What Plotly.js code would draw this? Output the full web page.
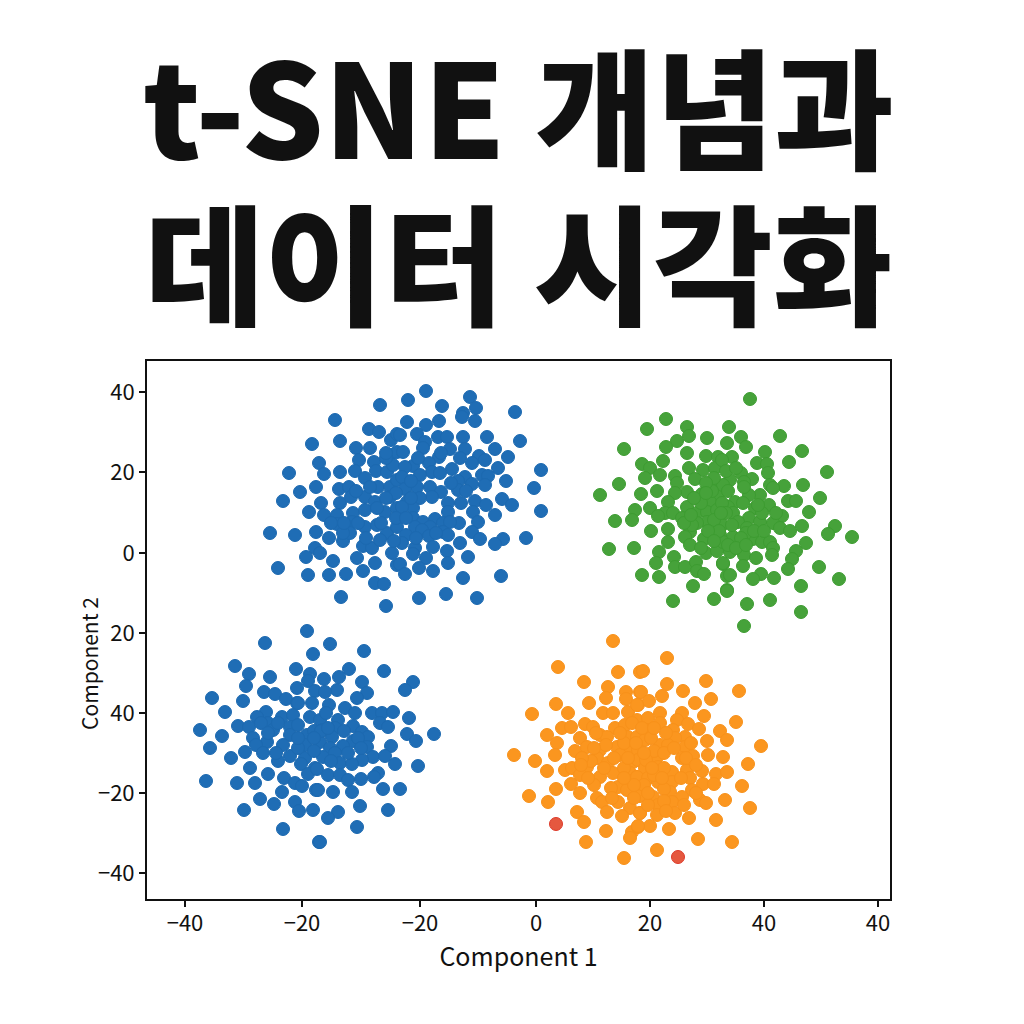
<!DOCTYPE html>
<html><head><meta charset="utf-8">
<script src="https://cdn.plot.ly/plotly-3.0.1.min.js"></script>
<style>html,body{margin:0;padding:0;background:#fff}</style></head>
<body><div id="chart" style="width:1024px;height:1024px"></div>
<script>
const titleLine1 = "t-SNE 개념과";
const titleLine2 = "데이터 시각화";
const xTickVals = [-351,-234,-116,0,114,228,342];
const xTickText = ["−40","−20","−20","0","20","40","40"];
const yTickVals = [161,81,0,-80,-160,-240,-320];
const yTickText = ["40","20","0","20","40","−20","−40"];
const blueUpper = [[-156,148],[-201,133],[-167,124],[-157,121],[-224,109],[-196,112],[-145,113],[-180,105],[-166,105],[-139,119],[-217,90],[-177,93],[-162,91],[-146,98],[-247,80],[-212,79],[-196,81],[-181,82],[-171,75],[-160,82],[-149,81],[-220,66],[-236,61],[-197,64],[-187,66],[-158,66],[-146,66],[-253,52],[-215,50],[-196,50],[-185,56],[-171,56],[-161,51],[-227,41],[-212,38],[-199,38],[-183,40],[-171,43],[-151,41],[-139,45],[-266,20],[-241,18],[-220,21],[-207,15],[-199,29],[-184,31],[-171,26],[-159,28],[-149,20],[-139,26],[-193,12],[-221,5],[-216,0],[-230,-4],[-173,7],[-164,5],[-156,13],[-144,0],[-179,-5],[-203,-8],[-161,-10],[-258,-15],[-228,-22],[-207,-22],[-190,-21],[-173,-18],[-139,-12],[-161,-30],[-152,-31],[-195,-44],[-150,-53],[-186,20],[-146,56],[-139,73],[-143,88],[-139,101],[-166,66],[-193,20],[-159,45],
[-110,162],[-128,153],[-66,156],[-94,147],[-60,145],[-73,140],[-74,136],[-21,141],[-61,132],[-129,131],[-110,128],[-97,132],[-119,119],[-136,118],[-98,116],[-89,116],[-73,116],[-49,116],[-16,112],[-111,111],[-113,105],[-86,104],[-41,104],[-71,104],[-133,101],[-28,96],[-97,96],[-76,95],[-57,97],[-51,93],[-64,90],[-107,90],[-38,85],[5,83],[-123,87],[-131,86],[-84,84],[-104,81],[-96,80],[-116,78],[-134,76],[-54,78],[-48,77],[-71,76],[-30,72],[-78,72],[-64,69],[-51,68],[-2,65],[-106,66],[-119,66],[-131,64],[-78,63],[-95,61],[-104,56],[-116,55],[-34,54],[-129,51],[-75,50],[-88,50],[-61,52],[-50,48],[-24,48],[-123,45],[-134,46],[-63,41],[-88,41],[5,42],[-41,38],[-123,35],[-113,31],[-101,34],[-58,31],[-93,30],[-77,30],[-86,31],[-121,26],[-106,26],[-114,23],[-93,21],[-88,18],[-64,21],[-107,17],[-130,18],[-56,14],[-33,14],[-10,15],[-134,10],[-41,9],[-76,10],[-103,6],[-121,5],[-89,2],[-123,-1],[-110,-5],[-68,-4],[-88,-10],[-136,-11],[-117,-15],[-103,-18],[-131,-21],[-73,-25],[-35,-23],[-90,-41],[-117,-45],[-59,-45],
[-150,95],[-140,60],[-125,72],[-118,95],[-125,55],[-140,35],[-150,55],[-130,35],[-142,12],[-120,15],[-100,20],[-170,15],[-180,62],[-70,62],[-85,70],[-95,100],[-155,30],[-178,30],[-192,30],[-205,30],[-150,100]];
const blueLower = [[-229,-78],[-271,-90],[-223,-101],[-301,-113],[-287,-121],[-266,-124],[-240,-116],[-226,-121],[-228,-128],[-290,-133],[-239,-135],[-272,-139],[-261,-141],[-221,-138],[-250,-146],[-324,-145],[-293,-148],[-239,-150],[-224,-150],[-311,-159],[-270,-159],[-279,-164],[-254,-164],[-243,-162],[-226,-164],[-298,-173],[-287,-174],[-268,-170],[-246,-174],[-263,-177],[-336,-177],[-314,-183],[-283,-185],[-246,-182],[-229,-182],[-269,-189],[-253,-192],[-231,-192],[-326,-195],[-280,-192],[-291,-199],[-273,-200],[-246,-203],[-305,-205],[-258,-208],[-231,-205],[-235,-211],[-286,-215],[-221,-215],[-268,-221],[-228,-221],[-252,-225],[-330,-228],[-299,-230],[-281,-230],[-241,-230],[-234,-233],[-220,-237],[-254,-239],[-276,-246],[-262,-251],[-241,-249],[-237,-258],[-292,-257],[-223,-257],[-253,-276],[-217,-289],
[-206,-91],[-172,-98],[-187,-116],[-152,-118],[-212,-126],[-197,-124],[-123,-129],[-174,-129],[-131,-137],[-169,-140],[-199,-137],[-211,-139],[-179,-145],[-207,-152],[-191,-155],[-181,-160],[-164,-160],[-154,-160],[-143,-159],[-127,-165],[-216,-167],[-198,-167],[-156,-170],[-148,-174],[-183,-173],[-201,-175],[-213,-177],[-174,-179],[-102,-181],[-129,-181],[-120,-188],[-168,-184],[-183,-188],[-204,-184],[-216,-189],[-193,-193],[-206,-195],[-169,-194],[-145,-193],[-213,-204],[-201,-200],[-163,-204],[-151,-203],[-174,-207],[-196,-210],[-184,-211],[-141,-211],[-118,-213],[-219,-216],[-208,-222],[-196,-222],[-188,-227],[-175,-226],[-158,-220],[-162,-224],[-218,-237],[-203,-239],[-184,-239],[-153,-236],[-136,-236],[-176,-253],[-148,-257],[-198,-259],[-208,-265],[-179,-274],[-216,-289],
[-258,-170],[-238,-172],[-222,-178],[-215,-178],[-238,-195],[-222,-198],[-208,-175],[-192,-178],[-178,-185],[-188,-200],[-175,-195],[-222,-185],[-260,-200],[-275,-170],[-238,-185],[-205,-208],[-238,-150],[-210,-160],[-268,-180]];
const greenCluster = [[130,134],[111,124],[151,126],[153,117],[171,115],[141,112],[88,104],[130,106],[151,100],[170,97],[182,96],[127,92],[106,89],[114,85],[153,85],[167,83],[179,85],[124,78],[109,75],[139,77],[159,74],[141,70],[83,69],[121,62],[151,61],[139,60],[181,68],[64,58],[105,59],[166,59],[182,58],[132,51],[174,51],[99,43],[114,45],[151,46],[129,40],[137,40],[122,37],[146,35],[161,40],[171,41],[181,43],[79,32],[96,33],[171,31],[161,30],[184,28],[115,22],[132,24],[154,21],[149,16],[132,11],[168,14],[184,18],[154,8],[73,4],[98,5],[123,1],[170,0],[181,2],[120,-10],[138,-4],[139,-14],[149,-14],[160,-9],[187,-11],[161,-18],[168,-21],[106,-22],[123,-24],[157,-33],[137,-48],[178,-46],[191,-37],[191,-23],
[214,154],[193,126],[205,116],[244,117],[191,110],[210,106],[266,102],[229,101],[196,96],[186,93],[253,91],[221,90],[231,89],[291,81],[205,80],[232,80],[194,73],[216,74],[208,71],[267,68],[234,68],[248,67],[237,65],[187,68],[224,58],[213,58],[284,55],[252,52],[260,52],[199,51],[192,46],[233,48],[219,45],[207,50],[273,41],[246,37],[197,40],[213,35],[224,31],[202,31],[266,27],[299,27],[237,30],[244,25],[254,22],[186,28],[292,19],[316,16],[211,25],[197,16],[217,14],[210,20],[226,11],[234,11],[270,10],[187,11],[237,5],[194,1],[260,2],[208,-2],[236,-2],[220,-5],[256,-6],[187,-10],[207,-13],[252,-16],[283,-14],[225,-21],[194,-22],[238,-25],[217,-26],[303,-26],[265,-33],[191,-38],[234,-47],[211,-51],[265,-59],[208,-73],
[176,62],[186,50],[192,62],[208,66],[178,33],[190,40],[183,22],[196,28],[205,15],[218,22],[172,22],[165,50],[158,55],[178,75],[190,82],[200,85],[170,70],[226,40],[228,22],[240,40],[156,28],[165,5],[178,12],[192,8],[200,5],[148,30],[155,38],[170,60],[185,40],[210,8],[222,48]];
const orangeCluster = [[77,-88],[22,-114],[82,-119],[48,-129],[104,-119],[72,-134],[90,-139],[104,-139],[70,-145],[90,-146],[20,-151],[53,-150],[-4,-161],[32,-160],[67,-160],[77,-160],[92,-159],[102,-152],[49,-171],[26,-175],[35,-174],[57,-174],[79,-175],[89,-172],[101,-167],[11,-182],[44,-185],[64,-182],[71,-184],[92,-184],[21,-190],[81,-194],[101,-184],[39,-198],[51,-194],[64,-197],[91,-197],[19,-202],[-22,-202],[61,-205],[72,-210],[84,-202],[97,-209],[-1,-208],[11,-218],[29,-217],[36,-215],[51,-214],[44,-222],[64,-224],[77,-220],[94,-220],[101,-224],[35,-231],[20,-236],[82,-234],[44,-240],[91,-237],[102,-242],[-7,-243],[61,-245],[12,-249],[82,-249],[66,-249],[94,-255],[71,-259],[41,-259],[86,-263],[104,-260],[48,-269],[70,-278],[96,-279],[94,-285],[50,-289],[88,-305],[102,-274],
[131,-105],[107,-118],[170,-128],[131,-131],[105,-139],[147,-138],[203,-138],[126,-143],[175,-146],[159,-150],[113,-148],[101,-152],[124,-160],[146,-160],[168,-163],[200,-169],[112,-165],[141,-167],[152,-171],[163,-176],[184,-178],[111,-177],[137,-177],[124,-170],[191,-187],[171,-188],[149,-184],[139,-185],[109,-187],[124,-192],[132,-192],[225,-193],[149,-194],[102,-197],[157,-203],[172,-202],[187,-204],[121,-204],[146,-205],[212,-211],[102,-207],[122,-214],[151,-217],[166,-218],[109,-215],[136,-219],[180,-221],[191,-219],[101,-224],[136,-229],[154,-225],[112,-225],[122,-229],[167,-231],[178,-231],[206,-233],[156,-237],[134,-239],[104,-243],[117,-244],[146,-244],[189,-247],[164,-247],[170,-250],[136,-249],[122,-252],[214,-255],[139,-260],[104,-260],[121,-262],[153,-265],[180,-267],[114,-273],[102,-273],[133,-276],[162,-286],[196,-289],[121,-297],
[60,-180],[70,-192],[55,-208],[46,-205],[68,-215],[88,-215],[78,-205],[88,-190],[96,-170],[106,-175],[115,-185],[118,-198],[110,-207],[128,-200],[138,-195],[128,-215],[118,-222],[108,-232],[98,-232],[88,-225],[75,-235],[58,-232],[52,-225],[128,-236],[150,-205],[160,-212],[145,-225],[128,-248],[112,-252],[98,-245],[76,-245],[155,-190],[130,-180],[118,-175],[100,-190],[58,-195],[45,-212],[92,-205],[84,-180],[108,-200],[116,-215],[126,-225],[160,-240],[148,-252],[130,-258],[112,-240]];
const redOutliers = [[20,-271],[142,-304]];

const FONT = '"Noto Sans CJK KR","Noto Sans",sans-serif';
function scatter(pts, fill, edge){
  return {type:'scatter',mode:'markers',x:pts.map(p=>p[0]),y:pts.map(p=>p[1]),
    marker:{size:13,color:fill,line:{color:edge,width:1}},hoverinfo:'skip',showlegend:false};
}
const traces = [
  scatter(blueUpper,'#1f6db5','#1c69b0'),
  scatter(blueLower,'#1f6db5','#1c69b0'),
  scatter(greenCluster,'#46a23a','#3d9c31'),
  scatter(orangeCluster,'#fb961f','#f8911a'),
  scatter(redOutliers,'#e5583f','#dd3a2a')
];
const axisBase = {showgrid:false,zeroline:false,showline:true,mirror:true,linecolor:'#111',linewidth:2,
  ticks:'outside',ticklen:6,tickwidth:1.5,tickcolor:'#111',tickmode:'array',
  tickfont:{family:FONT,size:22,color:'#111'},fixedrange:true};
const layout = {
  width:1024,height:1024,autosize:false,paper_bgcolor:'#fff',plot_bgcolor:'#fff',
  margin:{l:147,r:134,t:361,b:125},showlegend:false,
  title:{text:titleLine1,font:{family:FONT,size:130,color:'#111',weight:900},
    xref:'paper',yref:'container',x:0.5,xanchor:'center',y:0.889,yanchor:'middle'},
  xaxis:Object.assign({},axisBase,{range:[-389,354],tickvals:xTickVals,ticktext:xTickText,ticklabelstandoff:-2,
    title:{text:'Component 1',font:{family:FONT,size:25,color:'#111'},standoff:3}}),
  yaxis:Object.assign({},axisBase,{range:[-346,192],tickvals:yTickVals,ticktext:yTickText}),
  annotations:[
    {text:titleLine2,xref:'paper',yref:'paper',x:0.5,y:1.192,xanchor:'center',yanchor:'middle',showarrow:false,
     font:{family:FONT,size:130,color:'#111',weight:900}},
    {text:'Component 2',xref:'paper',yref:'paper',x:-0.078,y:0.437,xanchor:'center',yanchor:'middle',textangle:-90,showarrow:false,
     font:{family:FONT,size:21,color:'#111'}}
  ]
};
Plotly.newPlot('chart',traces,layout,{displayModeBar:false,staticPlot:true});
</script></body></html>
